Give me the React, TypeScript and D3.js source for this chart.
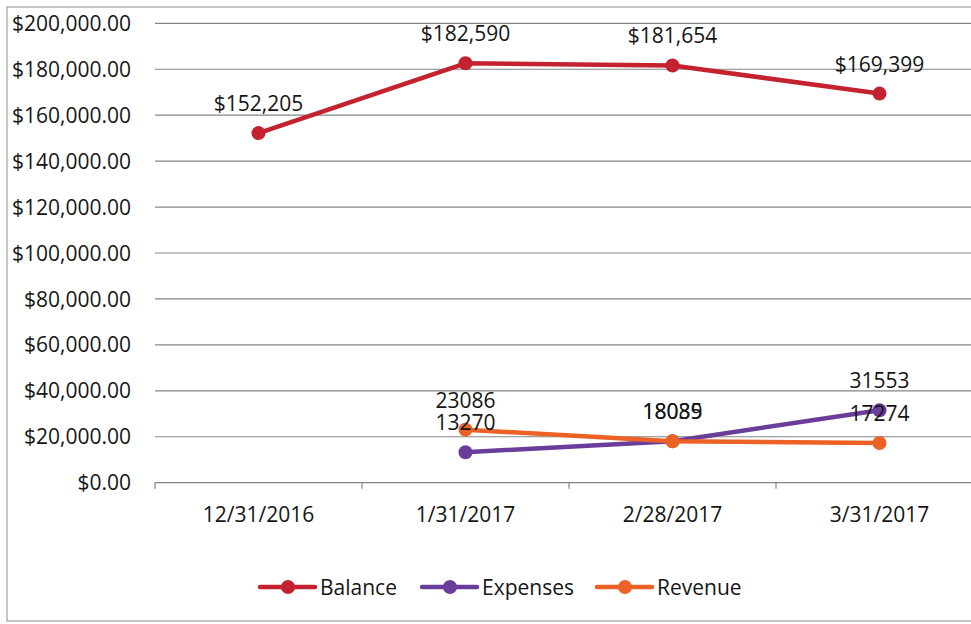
import React from "react";
import * as d3 from "d3";

const categories = ["12/31/2016", "1/31/2017", "2/28/2017", "3/31/2017"];
const balance: (number | null)[] = [152205, 182590, 181654, 169399];
const expenses: (number | null)[] = [null, 13270, 18089, 31553];
const revenue: (number | null)[] = [null, 23086, 18035, 17274];
const yTicks = [0, 20000, 40000, 60000, 80000, 100000, 120000, 140000, 160000, 180000, 200000];

const seriesNames = ["Balance", "Expenses", "Revenue"];
const seriesColors = ["#c3222e", "#6b3d9b", "#ec6125"];
const seriesLabelFmt = [(v: number) => "$" + d3.format(",")(v), (v: number) => String(v), (v: number) => String(v)];

const W = 971;
const H = 624;
const FONT = "'Open Sans', sans-serif";
const FS = 21;

export default function App() {
  const x = d3.scaleBand<string>().domain(categories).range([155, 983]).padding(0);
  const y = d3.scaleLinear().domain([0, 200000]).range([482.7, 23.3]);
  const cx = (c: string) => (x(c) as number) + x.bandwidth() / 2;
  const all = [balance, expenses, revenue];
  const line = d3
    .line<{ c: string; v: number | null }>()
    .defined((d) => d.v !== null)
    .x((d) => cx(d.c))
    .y((d) => y(d.v as number));

  const legendItems = [
    { lx: 260, tx: 320 },
    { lx: 422, tx: 482 },
    { lx: 597, tx: 657 },
  ];

  return (
    <svg
      width={W}
      height={H}
      style={{ position: "absolute", left: 0, top: 0, background: "#fff" }}
      fontFamily={FONT}
    >
      <rect x={0} y={0} width={W} height={H} fill="#fff" />
      <rect x={7} y={7} width={980} height={614} fill="none" stroke="#a0a0a0" strokeWidth={1.2} />
      {yTicks.map((t) => (
        <g key={t}>
          <line x1={155} x2={W} y1={y(t)} y2={y(t)} stroke="#858585" strokeWidth={1.2} />
          <text x={131} y={y(t)} dy="0.36em" textAnchor="end" fontSize={FS} fill="#151515">
            {"$" + d3.format(",.2f")(t)}
          </text>
        </g>
      ))}
      {[...categories.map((c) => x(c) as number), 983].map((px, i) => (
        <line key={i} x1={px} x2={px} y1={y(0)} y2={y(0) + 6} stroke="#858585" strokeWidth={1.2} />
      ))}
      {categories.map((c) => (
        <text key={c} x={cx(c)} y={522} textAnchor="middle" fontSize={FS} fill="#151515">
          {c}
        </text>
      ))}
      {all.map((s, si) => {
        const pts = categories.map((c, i) => ({ c, v: s[i] }));
        return (
          <g key={si}>
            <path d={line(pts) || ""} fill="none" stroke={seriesColors[si]} strokeWidth={4.5} strokeLinejoin="round" />
            {pts
              .filter((p) => p.v !== null)
              .map((p) => (
                <circle key={p.c} cx={cx(p.c)} cy={y(p.v as number)} r={7} fill={seriesColors[si]} />
              ))}
          </g>
        );
      })}
      {all.map((s, si) =>
        categories.map((c, i) =>
          s[i] === null ? null : (
            <text
              key={si + c}
              x={cx(c)}
              y={y(s[i] as number) - 22}
              textAnchor="middle"
              fontSize={FS}
              fill="#151515"
            >
              {seriesLabelFmt[si](s[i] as number)}
            </text>
          )
        )
      )}
      {seriesNames.map((n, i) => (
        <g key={n}>
          <line
            x1={legendItems[i].lx}
            x2={legendItems[i].lx + 55}
            y1={587}
            y2={587}
            stroke={seriesColors[i]}
            strokeWidth={4.5}
            strokeLinecap="round"
          />
          <circle cx={legendItems[i].lx + 28} cy={587} r={7} fill={seriesColors[i]} />
          <text x={legendItems[i].tx} y={587} dy="0.36em" fontSize={FS} fill="#151515">
            {n}
          </text>
        </g>
      ))}
    </svg>
  );
}
